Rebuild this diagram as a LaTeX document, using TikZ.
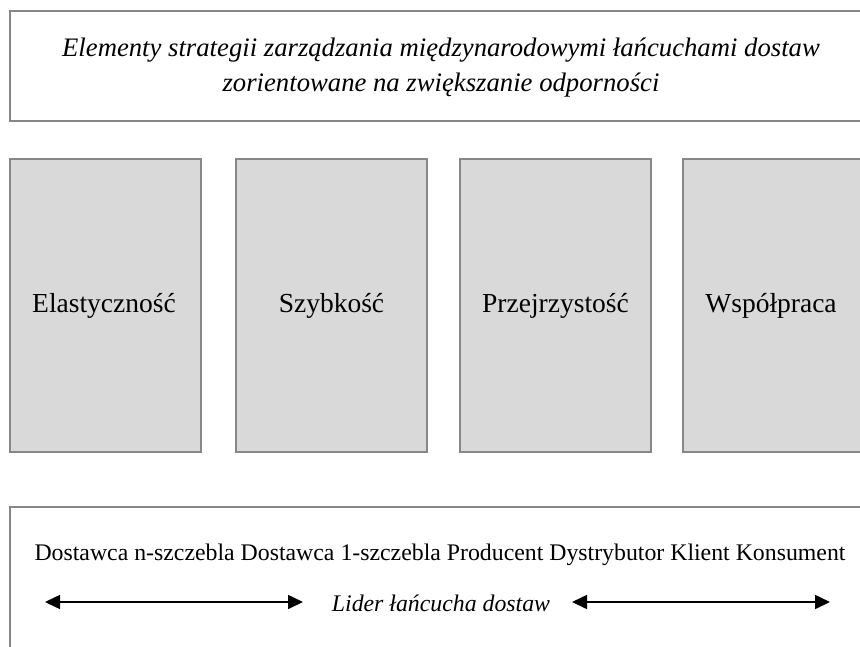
\documentclass[tikz,border=0pt]{standalone}
\usepackage{fontspec}
\setmainfont{Liberation Serif}
\usetikzlibrary{arrows.meta}
\definecolor{edgegray}{HTML}{878787}
\definecolor{boxfill}{HTML}{D9D9D9}
\tikzset{
  frame/.style={draw=edgegray, line width=2pt},
  pillar/.style={frame, fill=boxfill},
  lbl/.style={font=\fontsize{27.5}{30}\selectfont, inner sep=0pt},
  small/.style={font=\fontsize{23.8}{26}\selectfont, inner sep=0pt},
  ital/.style={font=\fontsize{26.7}{35}\selectfont\itshape, inner sep=0pt, align=center},
  dblarrow/.style={line width=1.6pt, {Triangle[length=15pt,width=14pt]}-{Triangle[length=15pt,width=14pt]}}
}
\begin{document}
\begin{tikzpicture}[x=1pt,y=-1pt]
\useasboundingbox (0,0) rectangle (860,646);
\clip (0,0) rectangle (860,646);
% top title box
\draw[frame] (10,11) rectangle (880,121);
\node[ital] (title) at (441,67.5) {Elementy strategii zarządzania międzynarodowymi łańcuchami dostaw\\zorientowane na zwiększanie odporności};
% pillars
\draw[pillar] (10,159) rectangle (201,452);
\draw[pillar] (236,159) rectangle (427,452);
\draw[pillar] (460,159) rectangle (651,452);
\draw[pillar] (683,159) rectangle (880,452);
\node[lbl] (b1) at (104,306) {Elastyczność};
\node[lbl] (b2) at (331.5,306) {Szybkość};
\node[lbl] (b3) at (555.5,306) {Przejrzystość};
\node[lbl] (b4) at (771,306) {Współpraca};
% bottom box
\draw[frame] (10,507) rectangle (880,670);
\node[small] (chain) at (440,555) {Dostawca n-szczebla Dostawca 1-szczebla Producent Dystrybutor Klient Konsument};
\node[small, font=\fontsize{23.8}{26}\selectfont\itshape] (leader) at (441,603.5) {Lider łańcucha dostaw};
\coordinate (a1) at (45,602);
\coordinate (a2) at (303,602);
\coordinate (a3) at (572,602);
\coordinate (a4) at (830,602);
\draw[dblarrow] (a1) -- (a2);
\draw[dblarrow] (a3) -- (a4);
\end{tikzpicture}
\end{document}
